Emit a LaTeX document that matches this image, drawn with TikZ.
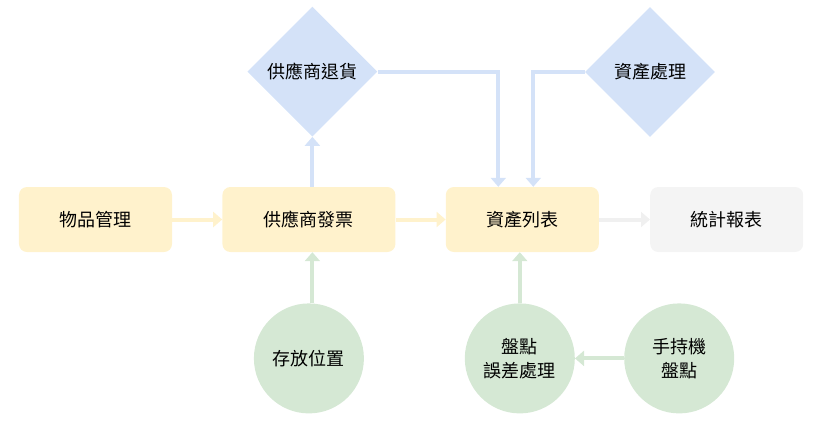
\documentclass[tikz,border=0pt]{standalone}
\usepackage{fontspec}
\setmainfont{Noto Sans CJK TC}
\usetikzlibrary{shapes.geometric, arrows.meta, positioning, calc}
\definecolor{flowYellow}{HTML}{FFF2CC}
\definecolor{flowBlue}{HTML}{D4E2F8}
\definecolor{flowGreen}{HTML}{D5E8D4}
\definecolor{flowGray}{HTML}{F4F4F4}
\definecolor{arrowGray}{HTML}{F0F0F0}

\begin{document}
\begin{tikzpicture}[
    x=1bp, y=1bp,
    node distance=50bp and 51bp,
    font=\fontsize{18bp}{24bp}\selectfont,
    % Estilo base para bloques
    block/.style={
        rounded corners=8bp,
        minimum height=65bp,
        minimum width=153bp,
        align=center,
        inner sep=0pt
    },
    % Estilo para decisiones
    choice/.style={
        diamond,
        fill=flowBlue,
        minimum width=130bp,
        minimum height=130bp,
        aspect=1,
        inner sep=0pt,
        align=center
    },
    % Estilo para fuentes de datos
    source/.style={
        circle,
        fill=flowGreen,
        minimum size=110bp,
        inner sep=0pt,
        align=center
    },
    % Estilo para flechas
    arrow/.style={
        -{Triangle[length=9bp, width=15bp]},
        line width=4bp
    }
]

    \useasboundingbox (0,0) rectangle (829,-432);

    % --- 1. Fila principal ---
    \node[block, fill=flowYellow] (mgmt) at (95.5,-219.5) {物品管理};
    \node[block, fill=flowYellow, right=50bp of mgmt, minimum width=173bp] (invoice) {供應商發票};
    \node[block, fill=flowYellow, right=50bp of invoice] (assets) {資產列表};
    \node[block, fill=flowGray, right=of assets] (report) {統計報表};

    \draw[arrow, flowYellow] (mgmt) -- (invoice);
    \draw[arrow, flowYellow] (invoice) -- (assets);
    \draw[arrow, arrowGray] (assets) -- (report);

    % --- 2. Decisiones (arriba) ---
    \node[choice, above=of invoice, xshift=3.5bp] (supplier_return) {供應商退貨};
    \node[choice] (disposal) at (650,-72) {資產處理};

    \draw[arrow, flowBlue] (supplier_return |- invoice.north) -- (supplier_return);
    \draw[arrow, flowBlue] (supplier_return.east) -| ([xshift=-24bp]assets.north);
    \draw[arrow, flowBlue] (disposal.west) -| ([xshift=11bp]assets.north);

    % --- 3. Fuentes (abajo) ---
    \node[source, below=51bp of invoice] (storage) {存放位置};
    \node[source, below=51bp of assets, xshift=-2.5bp] (count_diff) {盤點\\誤差處理};
    \node[source, right=49bp of count_diff] (handheld) {手持機\\盤點};

    \draw[arrow, flowGreen] ([xshift=3.5bp]storage.north) -- ([xshift=3.5bp]invoice.south);
    \draw[arrow, flowGreen] (count_diff) -- (count_diff |- assets.south);
    \draw[arrow, flowGreen] (handheld) -- (count_diff);

\end{tikzpicture}
\end{document}
